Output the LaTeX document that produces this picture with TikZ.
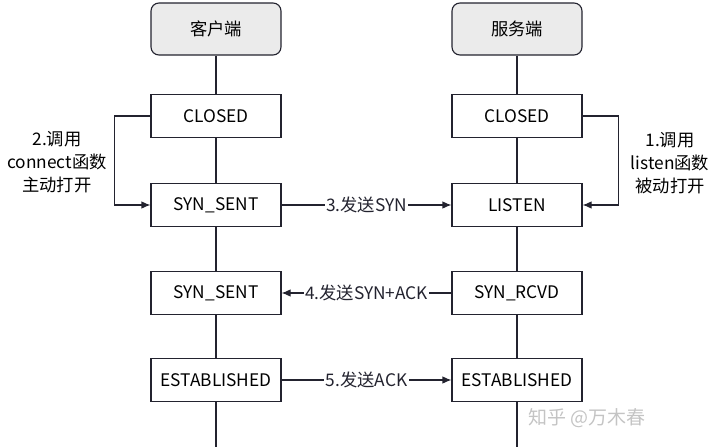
\documentclass[tikz,border=0pt]{standalone}
\usepackage{fontspec}
\setmainfont{Noto Sans CJK SC}
\usetikzlibrary{arrows.meta}
\definecolor{lineclr}{HTML}{23232F}
\definecolor{headfill}{HTML}{EBEBEB}
\definecolor{markclr}{HTML}{C4C4C4}
\begin{document}
\begin{tikzpicture}[x=1pt,y=-1pt,line width=1.1pt,
    state/.style={draw=lineclr,fill=white,minimum width=130pt,minimum height=43pt,
      inner sep=0pt,font=\fontsize{17.3}{19}\selectfont},
    head/.style={state,rounded corners=8pt,fill=headfill,minimum height=52pt},
    msg/.style={fill=white,inner sep=1.5pt,font=\fontsize{17.3}{19}\selectfont},
    note/.style={align=center,font=\fontsize{17.3}{23}\selectfont},
    tip/.style={-{Latex[length=9pt,width=7.5pt]}}]
    \useasboundingbox (0,0) rectangle (720,447);
    % client side
    \node[head]  (ch) at (216,29)  {客户端};
    \node[state] (c1) at (216,116) {CLOSED};
    \node[state] (c2) at (216,205) {SYN\_SENT};
    \node[state] (c3) at (216,293) {SYN\_SENT};
    \node[state] (c4) at (216,380) {ESTABLISHED};
    \coordinate (cend) at (216,447);
    % server side
    \node[head]  (sh) at (517,29)  {服务端};
    \node[state] (s1) at (517,116) {CLOSED};
    \node[state] (s2) at (517,205) {LISTEN};
    \node[state] (s3) at (517,293) {SYN\_RCVD};
    \node[state] (s4) at (517,380) {ESTABLISHED};
    \coordinate (send) at (517,447);
    % lifelines
    \draw[lineclr] (ch) -- (c1) (c1) -- (c2) (c2) -- (c3) (c3) -- (c4) (c4) -- (cend);
    \draw[lineclr] (sh) -- (s1) (s1) -- (s2) (s2) -- (s3) (s3) -- (s4) (s4) -- (send);
    % open calls
    \draw[lineclr,tip] (c1.west) -- ++(-36,0) |- (c2.west);
    \draw[lineclr,tip] (s1.east) -- ++(36,0) |- (s2.east);
    \node[note] (opencli) at (57,162) {2.调用\\connect函数\\主动打开};
    \node[note] (opensrv) at (670,163) {1.调用\\listen函数\\被动打开};
    % handshake
    \draw[lineclr,tip] (c2) -- (s2) node[midway,msg] {3.发送SYN};
    \draw[lineclr,tip] (s3) -- (c3) node[midway,msg] {4.发送SYN+ACK};
    \draw[lineclr,tip] (c4) -- (s4) node[midway,msg] {5.发送ACK};
    \node[text=markclr,font=\fontsize{19}{22}\selectfont] (mark) at (587,418) {知乎 @万木春};
\end{tikzpicture}
\end{document}
